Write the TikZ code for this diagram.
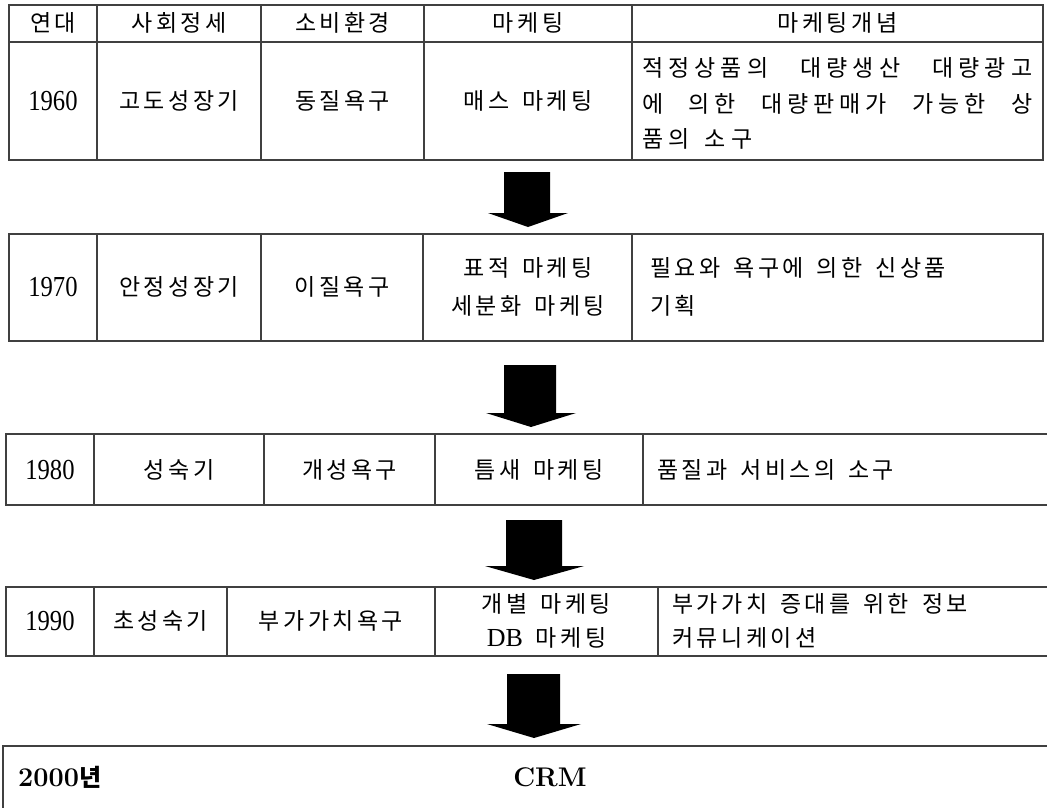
\documentclass[tikz,border=0pt]{standalone}
\usepackage{fontspec}
\newfontfamily\kr[LetterSpace=15,WordSpace=1.5]{Noto Sans CJK KR}
\newfontfamily\krw[LetterSpace=22,WordSpace=1.5]{Noto Sans CJK KR}
\newfontfamily\krb[WordSpace=2]{Noto Sans CJK KR}
\newfontfamily\numfont{Liberation Serif}
\tikzset{
  grid/.style={draw=black!75, line width=1.2pt},
  kt/.style={font=\kr\fontsize{23}{26}\selectfont, inner sep=0pt},
  ktw/.style={font=\krw\fontsize{23}{26}\selectfont, inner sep=0pt},
  num/.style={font=\numfont\fontsize{29}{30}\selectfont, inner sep=0pt, xscale=0.85},
  bold/.style={font=\bfseries\fontsize{27}{30}\selectfont, inner sep=0pt},
  blockarrow/.style={fill=black}
}
\newcommand{\jline}[1]{\makebox[390pt][s]{#1}}
\begin{document}
\begin{tikzpicture}[x=1pt,y=-1pt]
\useasboundingbox (0,0) rectangle (1047,807);
\fill[white] (0,0) rectangle (1047,807);
% ---------- table 1 (1960) ----------
\draw[grid] (9,5) rectangle (1043,160);
\draw[grid] (9,42) -- (1043,42);
\foreach \x in {97,261,424,632} \draw[grid] (\x,5) -- (\x,160);
\node[kt] (h1) at (53,23) {연대};
\node[kt] (h2) at (179,23) {사회정세};
\node[kt] (h3) at (342.5,23) {소비환경};
\node[kt] (h4) at (528,23) {마케팅};
\node[kt] (h5) at (837.5,23) {마케팅개념};
\node[num] (y60) at (53,101) {1960};
\node[kt] (s60) at (179,101) {고도성장기};
\node[kt] (c60) at (342.5,101) {동질욕구};
\node[kt] (m60) at (528,101) {매스 마케팅};
\node[ktw,anchor=west] (p60a) at (642,68) {\jline{적정상품의 대량생산 대량광고}};
\node[ktw,anchor=west] (p60b) at (642,104) {\jline{에 의한 대량판매가 가능한 상}};
\node[ktw,anchor=west] (p60c) at (642,139) {품의 소구};
% ---------- arrow 1 ----------
\fill[blockarrow] (504,172) -- (550,172) -- (550,213) -- (568,213) -- (528,227) -- (488,213) -- (504,213) -- cycle;
% ---------- table 2 (1970) ----------
\draw[grid] (9,234) rectangle (1043,341);
\foreach \x in {97,261,423,632} \draw[grid] (\x,234) -- (\x,341);
\node[num] (y70) at (53,287) {1970};
\node[kt] (s70) at (179,287) {안정성장기};
\node[kt] (c70) at (342,287) {이질욕구};
\node[kt] (m70a) at (528,268) {표적 마케팅};
\node[kt] (m70b) at (528,306) {세분화 마케팅};
\node[kt,anchor=west] (p70a) at (650,268) {필요와 욕구에 의한 신상품};
\node[kt,anchor=west] (p70b) at (650,306) {기획};
% ---------- arrow 2 ----------
\fill[blockarrow] (504,365) -- (556,365) -- (556,413) -- (576,413) -- (531,427) -- (486,413) -- (504,413) -- cycle;
% ---------- table 3 (1980) ----------
\draw[grid] (1050,434) -- (6,434) -- (6,505) -- (1050,505);
\foreach \x in {94,264,435,643} \draw[grid] (\x,434) -- (\x,505);
\node[num] (y80) at (50,470) {1980};
\node[kt] (s80) at (179,470) {성숙기};
\node[kt] (c80) at (349.5,470) {개성욕구};
\node[kt] (m80) at (539,470) {틈새 마케팅};
\node[kt,anchor=west] (p80) at (657,470) {품질과 서비스의 소구};
% ---------- arrow 3 ----------
\fill[blockarrow] (506,520) -- (562,520) -- (562,566) -- (584,566) -- (534,580) -- (485,566) -- (506,566) -- cycle;
% ---------- table 4 (1990) ----------
\draw[grid] (1050,587) -- (6,587) -- (6,656) -- (1050,656);
\foreach \x in {94,227,435,658} \draw[grid] (\x,587) -- (\x,656);
\node[num] (y90) at (50,621) {1990};
\node[kt] (s90) at (160.5,621) {초성숙기};
\node[kt] (c90) at (331,621) {부가가치욕구};
\node[kt] (m90a) at (546.5,604) {개별 마케팅};
\node[kt] (m90b) at (546.5,638) {{\numfont\fontsize{26}{26}\selectfont DB} 마케팅};
\node[kt,anchor=west] (p90a) at (672,604) {부가가치 증대를 위한 정보};
\node[kt,anchor=west] (p90b) at (672,638) {커뮤니케이션};
% ---------- arrow 4 ----------
\fill[blockarrow] (507,674) -- (560,674) -- (560,724) -- (581,724) -- (534,738) -- (487,724) -- (507,724) -- cycle;
% ---------- box 5 (2000) ----------
\draw[grid] (1050,746) -- (3,746) -- (3,812);
\node[bold,anchor=west] (y00) at (18,777) {2000{\krb\bfseries\fontsize{24}{26}\selectfont 년}};
\node[bold] (crm) at (550,777) {CRM};
\end{tikzpicture}
\end{document}
